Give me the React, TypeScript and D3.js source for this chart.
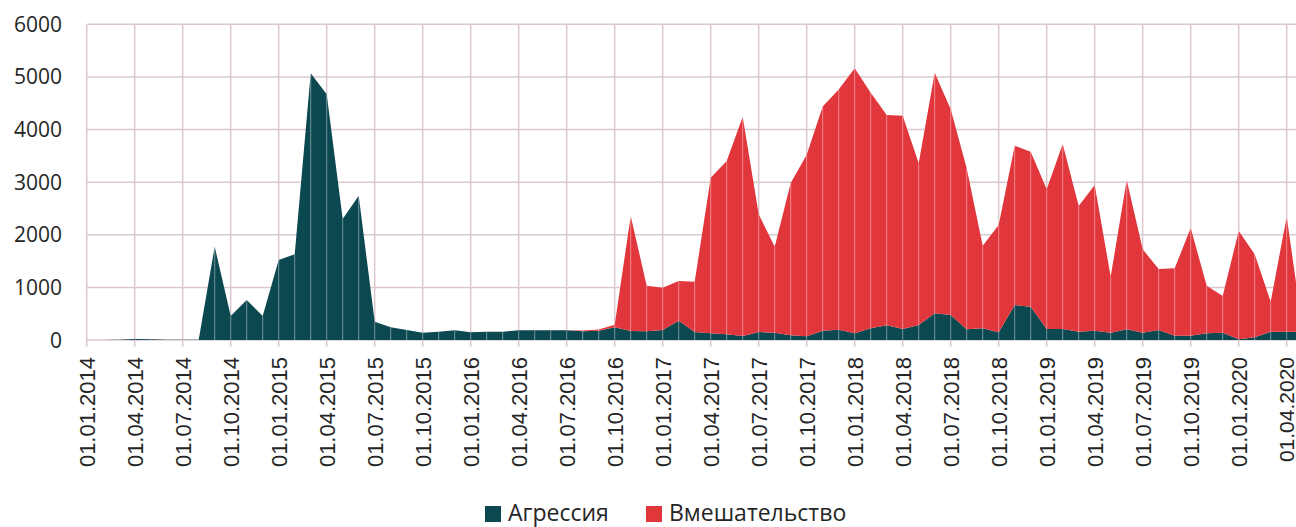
import React from "react";
import * as d3 from "d3";

const months: string[] = (() => {
  const out: string[] = [];
  for (let y = 2014; y <= 2020; y++) {
    for (let m = 1; m <= 12; m++) {
      if (y === 2020 && m > 5) break;
      out.push(`01.${String(m).padStart(2, "0")}.${y}`);
    }
  }
  return out;
})();

const aggression: number[] = [
  0, 0, 5, 20, 15, 5, 5, 5, 1775, 456, 760, 456,
  1520, 1630, 5070, 4670, 2300, 2740, 348, 241, 190, 139, 158, 184,
  146, 158, 158, 184, 184, 184, 184, 165, 175, 240, 171, 165,
  190, 367, 152, 127, 108, 76, 152, 139, 89, 70, 175, 195,
  127, 222, 279, 209, 285, 507, 475, 203, 222, 146, 665, 634,
  209, 209, 158, 177, 139, 203, 139, 190, 82, 82, 127, 139,
  13, 51, 158, 158, 160,
];

const interference: number[] = [
  0, 0, 0, 0, 0, 0, 0, 0, 0, 0, 0, 0,
  0, 0, 0, 0, 0, 0, 0, 0, 0, 0, 0, 0,
  0, 0, 0, 0, 0, 0, 0, 15, 25, 50, 2186, 867,
  804, 754, 956, 2958, 3294, 4168, 2237, 1634, 2896, 3450, 4265, 4565,
  5036, 4478, 3997, 4054, 3073, 4573, 3909, 3060, 1570, 2039, 3028, 2945,
  2655, 3516, 2389, 2769, 1064, 2838, 1584, 1159, 1280, 2046, 905, 697,
  2058, 1577, 570, 2186, 40,
];

const yTicks: number[] = [0, 1000, 2000, 3000, 4000, 5000, 6000];
const seriesNames: string[] = ["Агрессия", "Вмешательство"];
const seriesColors: string[] = ["#0c4850", "#e1363c"];

const W = 1296;
const H = 527;
const X0 = 86.7;
const PX_PER_MONTH = 16;
const Y0 = 340;
const YTOP = 24.3;
const GRID = "#dbc9cf";
const TEXT = "#262626";

export default function App() {
  const n = months.length;
  const x = d3.scaleLinear().domain([0, 1]).range([X0, X0 + PX_PER_MONTH]);
  const y = d3.scaleLinear().domain([0, 6000]).range([Y0, YTOP]);

  const rows = months.map((m, i) => ({ i, a: aggression[i], b: interference[i] }));
  const stack = d3.stack<any>().keys(["a", "b"]);
  const layers = stack(rows);
  const area = d3
    .area<any>()
    .x((d) => x(d.data.i))
    .y0((d) => y(d[0]))
    .y1((d) => y(d[1]));

  const quarterIdx = d3.range(0, n).filter((i) => i % 3 === 0);

  return (
    <svg
      width={W}
      height={H}
      style={{ position: "absolute", left: 0, top: 0, background: "#fff" }}
    >
      {yTicks.map((t) => (
        <line key={"h" + t} x1={X0} x2={W} y1={y(t)} y2={y(t)} stroke={GRID} strokeWidth={1.5} />
      ))}
      {quarterIdx.map((i) => (
        <line key={"v" + i} x1={x(i)} x2={x(i)} y1={YTOP} y2={Y0 + 7} stroke={GRID} strokeWidth={1.5} />
      ))}
      {layers.map((layer, k) => (
        <path key={"a" + k} d={area(layer) || ""} fill={seriesColors[k]} />
      ))}
      {rows.map((r) => {
        const top = r.a + r.b;
        if (top <= 0) return null;
        return (
          <line
            key={"s" + r.i}
            x1={x(r.i)}
            x2={x(r.i)}
            y1={y(0)}
            y2={y(top)}
            stroke="rgba(255,255,255,0.42)"
            strokeWidth={1}
          />
        );
      })}
      {yTicks.map((t) => (
        <text
          key={"yl" + t}
          x={62}
          y={y(t)}
          dy="0.36em"
          textAnchor="end"
          fontFamily="'Open Sans', sans-serif"
          fontSize={21}
          fill={TEXT}
        >
          {t}
        </text>
      ))}
      {quarterIdx.map((i) => (
        <text
          key={"xl" + i}
          transform={`translate(${x(i)},${357}) rotate(-90)`}
          dy="0.36em"
          textAnchor="end"
          fontFamily="'Liberation Sans', Arial, sans-serif"
          fontSize={i === 75 ? 21 : 22}
          fill={TEXT}
        >
          {months[i]}
        </text>
      ))}
      <rect x={485} y={506} width={16} height={16} fill={seriesColors[0]} />
      <text x={508} y={521} fontFamily="'Open Sans', sans-serif" fontSize={23} fill={TEXT}>
        {seriesNames[0]}
      </text>
      <rect x={646} y={506} width={16} height={16} fill={seriesColors[1]} />
      <text x={669} y={521} fontFamily="'Open Sans', sans-serif" fontSize={23} fill={TEXT}>
        {seriesNames[1]}
      </text>
    </svg>
  );
}
